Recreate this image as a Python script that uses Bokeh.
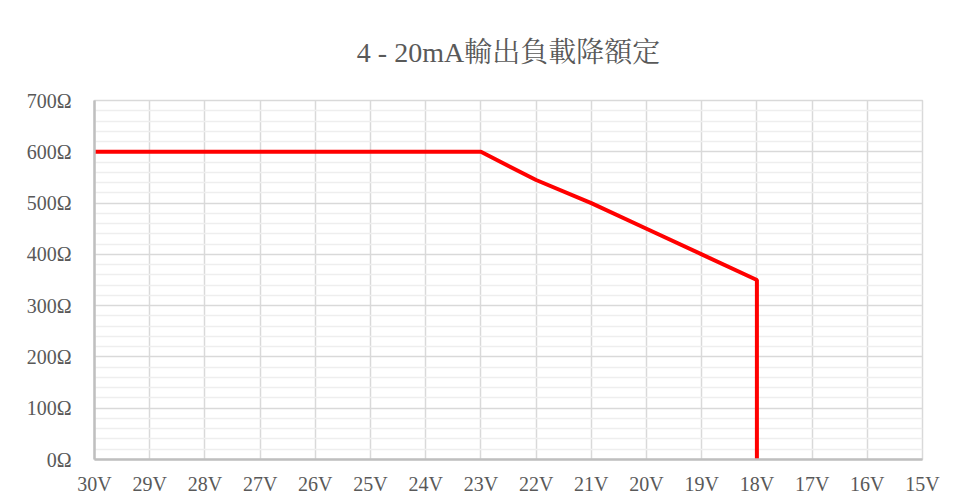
from bokeh.plotting import figure
from bokeh.models import Range1d, FixedTicker
from bokeh.embed import file_html
from bokeh.resources import INLINE

# ---- data ----
title_text = "4 - 20mA輸出負載降額定"
x_ticks = [30, 29, 28, 27, 26, 25, 24, 23, 22, 21, 20, 19, 18, 17, 16, 15]
x_tick_labels = ["30V", "29V", "28V", "27V", "26V", "25V", "24V", "23V",
                 "22V", "21V", "20V", "19V", "18V", "17V", "16V", "15V"]
y_ticks = [0, 100, 200, 300, 400, 500, 600, 700]
y_tick_labels = ["0Ω", "100Ω", "200Ω", "300Ω", "400Ω", "500Ω", "600Ω", "700Ω"]
y_minor = [20, 40, 60, 80, 120, 140, 160, 180, 220, 240, 260, 280,
           320, 340, 360, 380, 420, 440, 460, 480, 520, 540, 560, 580,
           620, 640, 660, 680]
voltage = [30, 29, 28, 27, 26, 25, 24, 23, 22, 21, 20, 19, 18, 18]
load = [600, 600, 600, 600, 600, 600, 600, 600, 545, 500, 450, 400, 350, 0]

SERIF = "'Liberation Serif', 'Noto Serif CJK TC', 'Noto Sans CJK TC', serif"
TEXT_COLOR = "#595959"

p = figure(width=949, height=503, output_backend="svg", toolbar_location=None,
           x_range=Range1d(30, 15), y_range=Range1d(0, 700),
           min_border_left=94, min_border_right=27,
           min_border_top=100, min_border_bottom=44,
           title=title_text)
p.background_fill_color = "white"
p.border_fill_color = "white"
p.outline_line_color = "#d9d9d9"
p.outline_line_width = 1.5

p.title.align = "center"
p.title.text_font = SERIF
p.title.text_font_size = "28px"
p.title.text_font_style = "normal"
p.title.text_color = TEXT_COLOR
p.title.standoff = 66

# axes
p.xaxis.ticker = FixedTicker(ticks=x_ticks)
p.xaxis.major_label_overrides = {t: l for t, l in zip(x_ticks, x_tick_labels)}
p.yaxis.ticker = FixedTicker(ticks=y_ticks, minor_ticks=y_minor)
p.yaxis.major_label_overrides = {t: l for t, l in zip(y_ticks, y_tick_labels)}
for ax in (p.xaxis[0], p.yaxis[0]):
    ax.axis_line_color = "#bfbfbf"
    ax.axis_line_width = 2.5
    ax.major_tick_line_color = None
    ax.minor_tick_line_color = None
    ax.major_label_text_font = SERIF
    ax.major_label_text_font_size = "20px"
    ax.major_label_text_color = TEXT_COLOR
p.xaxis.major_label_standoff = 7
p.yaxis.major_label_standoff = 17

# grids
p.xgrid.ticker = FixedTicker(ticks=x_ticks)
p.xgrid.grid_line_color = "#d9d9d9"
p.xgrid.grid_line_width = 1.5
p.ygrid.ticker = FixedTicker(ticks=y_ticks, minor_ticks=y_minor)
p.ygrid.grid_line_color = "#d9d9d9"
p.ygrid.grid_line_width = 1.5
p.ygrid.minor_grid_line_color = "#eeeeee"
p.ygrid.minor_grid_line_width = 1.5

p.line(voltage, load, line_color="#ff0000", line_width=4)

open("out.html", "w").write(file_html(p, INLINE))
